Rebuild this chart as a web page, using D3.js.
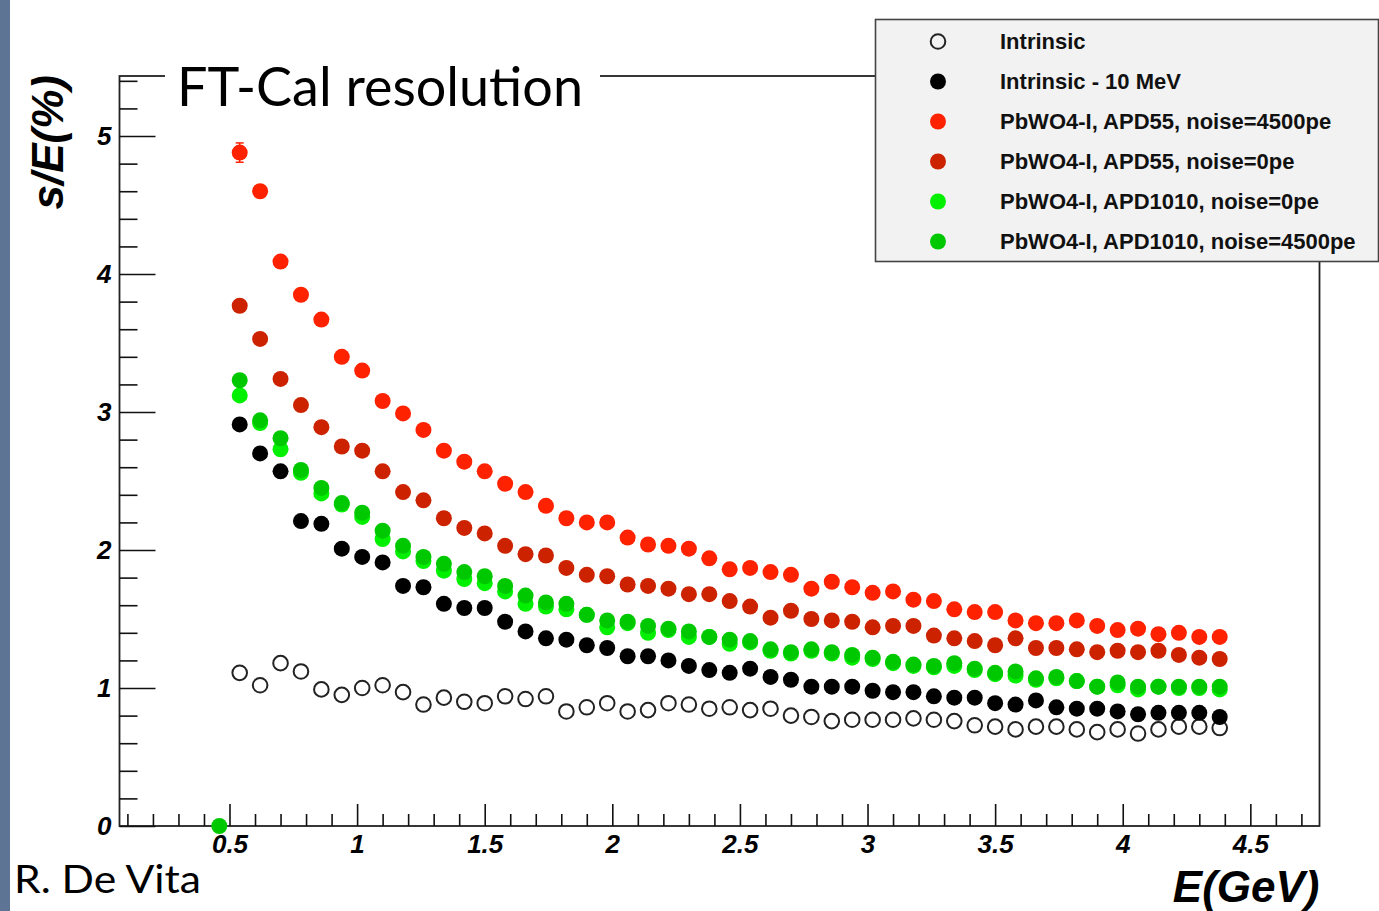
<!DOCTYPE html>
<html lang="en">
<head>
<meta charset="utf-8">
<title>FT-Cal resolution</title>
<style>
	body {
		margin: 0;
		background-color: #fff;
	}

	.axis text {
		font-family: "Liberation Sans", Arial, sans-serif;
		font-weight: bold;
		font-style: italic;
		font-size: 26px;
		fill: #000;
	}

	.axis line {
		stroke: #111;
		stroke-width: 1.6px;
	}

	.axis path {
		display: none;
	}

	.axtitle {
		font-family: "Liberation Sans", Arial, sans-serif;
		font-weight: bold;
		font-style: italic;
		font-size: 44px;
		fill: #000;
	}

	.bigtext {
		font-family: Lato, "Open Sans", sans-serif;
		fill: #000;
	}

	.legend text {
		font-family: "Liberation Sans", Arial, sans-serif;
		font-weight: bold;
		font-size: 22px;
		fill: #111;
	}
</style>
</head>
<body>
<script src="https://cdnjs.cloudflare.com/ajax/libs/d3/7.8.5/d3.min.js"></script>
<script>

	// energy bins (GeV), first bin only filled by the APD1010 4500pe series
	var energies = [0.46, 0.54, 0.62, 0.70, 0.78, 0.86, 0.94, 1.02, 1.10, 1.18, 1.26,
		1.34, 1.42, 1.50, 1.58, 1.66, 1.74, 1.82, 1.90, 1.98, 2.06, 2.14, 2.22, 2.30,
		2.38, 2.46, 2.54, 2.62, 2.70, 2.78, 2.86, 2.94, 3.02, 3.10, 3.18, 3.26, 3.34,
		3.42, 3.50, 3.58, 3.66, 3.74, 3.82, 3.90, 3.98, 4.06, 4.14, 4.22, 4.30, 4.38];

	var intrinsic = [null,
		1.11, 1.02, 1.18, 1.12, 0.99, 0.95, 1.00, 1.02, 0.97, 0.88, 0.93, 0.90, 0.89,
		0.94, 0.92, 0.94, 0.83, 0.86, 0.89, 0.83, 0.84, 0.89, 0.88, 0.85, 0.86,
		0.84, 0.85, 0.80, 0.79, 0.76, 0.77, 0.77, 0.77, 0.78, 0.77, 0.76, 0.73,
		0.72, 0.70, 0.72, 0.72, 0.70, 0.68, 0.70, 0.67, 0.70, 0.72, 0.72, 0.71];

	var intrinsic10 = [null,
		2.91, 2.70, 2.57, 2.21, 2.19, 2.01, 1.95, 1.91, 1.74, 1.73, 1.61, 1.58, 1.58,
		1.48, 1.41, 1.36, 1.35, 1.31, 1.29, 1.23, 1.23, 1.20, 1.16, 1.13, 1.11,
		1.14, 1.08, 1.06, 1.01, 1.01, 1.01, 0.98, 0.97, 0.97, 0.94, 0.93, 0.93,
		0.89, 0.88, 0.91, 0.86, 0.85, 0.85, 0.83, 0.81, 0.82, 0.82, 0.82, 0.79];

	var apd55n4500 = [null,
		4.88, 4.60, 4.09, 3.85, 3.67, 3.40, 3.30, 3.08, 2.99, 2.87, 2.72, 2.64, 2.57,
		2.48, 2.42, 2.32, 2.23, 2.20, 2.20, 2.09, 2.04, 2.03, 2.01, 1.94, 1.86,
		1.87, 1.84, 1.82, 1.72, 1.77, 1.73, 1.69, 1.70, 1.64, 1.63, 1.57, 1.55,
		1.55, 1.49, 1.47, 1.47, 1.49, 1.45, 1.42, 1.43, 1.39, 1.40, 1.37, 1.37];

	var apd55n0 = [null,
		3.77, 3.53, 3.24, 3.05, 2.89, 2.75, 2.72, 2.57, 2.42, 2.36, 2.23, 2.16, 2.12,
		2.03, 1.97, 1.96, 1.87, 1.82, 1.81, 1.75, 1.74, 1.72, 1.68, 1.68, 1.63,
		1.59, 1.51, 1.56, 1.50, 1.49, 1.48, 1.44, 1.45, 1.45, 1.38, 1.36, 1.34,
		1.31, 1.36, 1.29, 1.29, 1.28, 1.26, 1.27, 1.26, 1.27, 1.24, 1.22, 1.21];

	var apd1010n0 = [null,
		3.12, 2.92, 2.73, 2.56, 2.41, 2.33, 2.24, 2.08, 1.99, 1.92, 1.85, 1.79, 1.76,
		1.70, 1.61, 1.59, 1.57, 1.53, 1.44, 1.47, 1.40, 1.42, 1.37, 1.37, 1.32,
		1.33, 1.27, 1.25, 1.27, 1.25, 1.22, 1.21, 1.18, 1.16, 1.15, 1.16, 1.13,
		1.10, 1.09, 1.06, 1.07, 1.05, 1.01, 1.02, 0.99, 1.01, 1.00, 1.00, 0.99];

	var apd1010n4500 = [0,
		3.23, 2.94, 2.81, 2.58, 2.45, 2.34, 2.27, 2.14, 2.03, 1.95, 1.90, 1.84, 1.81,
		1.74, 1.67, 1.62, 1.61, 1.53, 1.49, 1.48, 1.45, 1.43, 1.41, 1.37, 1.35,
		1.34, 1.28, 1.26, 1.28, 1.26, 1.24, 1.22, 1.19, 1.17, 1.16, 1.18, 1.14,
		1.11, 1.12, 1.07, 1.08, 1.05, 1.01, 1.04, 1.01, 1.01, 1.01, 1.01, 1.01];

	// only the first red point has a visible error bar
	var apd55n4500Err = [null, 0.07];

	var labels = ["Intrinsic", "Intrinsic - 10 MeV", "PbWO4-I, APD55, noise=4500pe",
		"PbWO4-I, APD55, noise=0pe", "PbWO4-I, APD1010, noise=0pe", "PbWO4-I, APD1010, noise=4500pe"];
	var colors = ["none", "#000000", "#ff2200", "#cc2200", "#00f000", "#00c800"];

	var xMajor = [0.5, 1, 1.5, 2, 2.5, 3, 3.5, 4, 4.5];
	var yMajor = [0, 1, 2, 3, 4, 5];

	var fullwidth = 1379;
	var fullheight = 911;
	var frame = { left: 119.5, right: 1319.5, top: 76, bottom: 826 };

	var series = [intrinsic, intrinsic10, apd55n4500, apd55n0, apd1010n0, apd1010n4500];

	var svg = d3.select("body")
		.append("svg")
		.attr("width", fullwidth)
		.attr("height", fullheight);

	// blue slide edge on the left
	svg.append("rect")
		.attr("x", 0).attr("y", 0)
		.attr("width", 10).attr("height", fullheight)
		.attr("fill", "#5d7494");

	var xScale = d3.scaleLinear()
		.domain([0.069, 4.771])
		.range([frame.left, frame.right]);

	var yScale = d3.scaleLinear()
		.domain([0, 5.435])
		.range([frame.bottom, frame.top]);

	var xMinor = d3.range(1, 48).map(function(i) { return i / 10; })
		.filter(function(d) { return Math.abs(d * 2 - Math.round(d * 2)) > 1e-6; });
	var yMinor = d3.range(1, 28).map(function(i) { return i / 5; })
		.filter(function(d) { return Math.abs(d - Math.round(d)) > 1e-6; });

	// frame
	svg.append("rect")
		.attr("x", frame.left).attr("y", frame.top)
		.attr("width", frame.right - frame.left)
		.attr("height", frame.bottom - frame.top)
		.attr("fill", "none")
		.attr("stroke", "#222")
		.attr("stroke-width", 1.8);

	// axes, ticks point inside the frame
	svg.append("g")
		.attr("class", "x axis")
		.attr("transform", "translate(0," + frame.bottom + ")")
		.call(d3.axisBottom(xScale).tickValues(xMinor).tickSizeInner(-12).tickSizeOuter(0).tickFormat(""));

	svg.append("g")
		.attr("class", "x axis")
		.attr("transform", "translate(0," + frame.bottom + ")")
		.call(d3.axisBottom(xScale).tickValues(xMajor).tickSizeInner(-22).tickSizeOuter(0).tickPadding(9)
			.tickFormat(function(d) { return String(d); }));

	svg.append("g")
		.attr("class", "y axis")
		.attr("transform", "translate(" + frame.left + ",0)")
		.call(d3.axisLeft(yScale).tickValues(yMinor).tickSizeInner(-18).tickSizeOuter(0).tickFormat(""));

	svg.append("g")
		.attr("class", "y axis")
		.attr("transform", "translate(" + frame.left + ",0)")
		.call(d3.axisLeft(yScale).tickValues(yMajor).tickSizeInner(-36).tickSizeOuter(0).tickPadding(8)
			.tickFormat(function(d) { return String(d); }));

	// axis titles
	svg.append("text")
		.attr("class", "axtitle")
		.attr("x", frame.right)
		.attr("y", 902)
		.attr("text-anchor", "end")
		.text("E(GeV)");

	svg.append("text")
		.attr("class", "axtitle")
		.attr("transform", "translate(63,75) rotate(-90)")
		.attr("text-anchor", "end")
		.text("s/E(%)");

	// title sits on a white box that hides the top of the frame
	svg.append("rect")
		.attr("x", 165).attr("y", 50)
		.attr("width", 435).attr("height", 66)
		.attr("fill", "#fff");

	svg.append("text")
		.attr("class", "bigtext")
		.attr("x", 177)
		.attr("y", 106)
		.attr("font-size", 54)
		.attr("textLength", 406)
		.attr("lengthAdjust", "spacingAndGlyphs")
		.text("FT-Cal resolution");

	svg.append("text")
		.attr("class", "bigtext")
		.attr("x", 14)
		.attr("y", 893)
		.attr("font-size", 39)
		.attr("textLength", 187)
		.attr("lengthAdjust", "spacingAndGlyphs")
		.text("R. De Vita");

	// error bar on first point
	var errPts = apd55n4500Err.map(function(e, i) {
		return { x: energies[i], y: apd55n4500[i], e: e };
	}).filter(function(d) { return d.e != null && d.y != null; });

	var errG = svg.append("g").attr("stroke", colors[2]).attr("stroke-width", 1.5);
	errPts.forEach(function(d) {
		var cx = xScale(d.x);
		errG.append("line")
			.attr("x1", cx).attr("x2", cx)
			.attr("y1", yScale(d.y + d.e)).attr("y2", yScale(d.y - d.e));
		[d.y + d.e, d.y - d.e].forEach(function(v) {
			errG.append("line")
				.attr("x1", cx - 4).attr("x2", cx + 4)
				.attr("y1", yScale(v)).attr("y2", yScale(v));
		});
	});

	// markers
	series.forEach(function(vals, s) {
		var pts = vals.map(function(v, i) { return { x: energies[i], y: v }; })
			.filter(function(d) { return d.y != null; });

		svg.append("g")
			.selectAll("circle")
			.data(pts)
			.enter()
			.append("circle")
			.attr("cx", function(d) { return xScale(d.x); })
			.attr("cy", function(d) { return yScale(d.y); })
			.attr("r", s == 0 ? 7.3 : 8)
			.attr("fill", s == 0 ? "none" : colors[s])
			.attr("stroke", s == 0 ? "#222" : "none")
			.attr("stroke-width", 2);
	});

	// legend
	var legend = svg.append("g").attr("class", "legend");

	legend.append("rect")
		.attr("x", 875.5).attr("y", 19.5)
		.attr("width", 503).attr("height", 242)
		.attr("fill", "#f2f2f2")
		.attr("stroke", "#444")
		.attr("stroke-width", 1.6);

	var rows = legend.selectAll("g.row")
		.data(labels)
		.enter()
		.append("g")
		.attr("class", "row")
		.attr("transform", function(d, i) { return "translate(0," + (41.5 + i * 40) + ")"; });

	rows.append("circle")
		.attr("cx", 938)
		.attr("cy", 0)
		.attr("r", function(d, i) { return i == 0 ? 7.3 : 8; })
		.attr("fill", function(d, i) { return colors[i]; })
		.attr("stroke", function(d, i) { return i == 0 ? "#222" : "none"; })
		.attr("stroke-width", 2);

	rows.append("text")
		.attr("x", 1000)
		.attr("y", 0)
		.attr("dy", "0.36em")
		.text(function(d) { return d; });

</script>
</body>
</html>
